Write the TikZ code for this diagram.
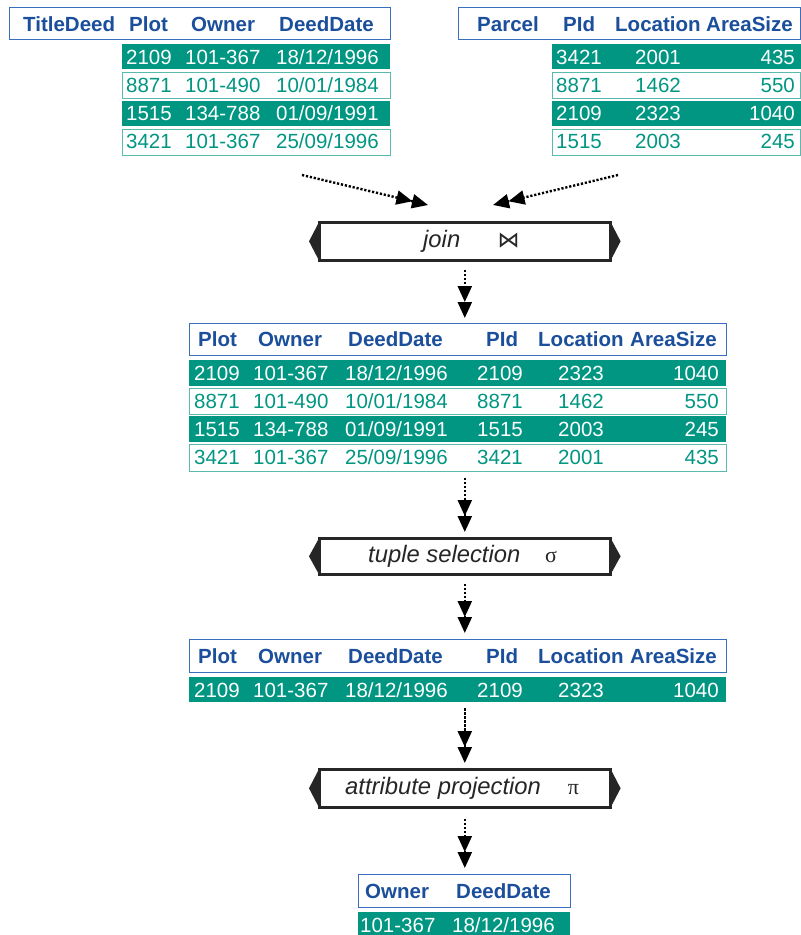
\documentclass[tikz,border=0pt]{standalone}
\usepackage{fontspec}
\setmainfont{Liberation Sans}
\newfontfamily\grkfont{Liberation Serif}
\newfontfamily\djvfont{DejaVu Sans}
\usetikzlibrary{arrows.meta,calc}
\definecolor{tealfill}{HTML}{009682}
\definecolor{tealline}{HTML}{5ABAAD}
\definecolor{hdrblue}{HTML}{1B4F9C}
\definecolor{hdrline}{HTML}{3A6EBE}
\tikzset{
  hdrbox/.style={draw=hdrline, line width=1.4pt, fill=white, anchor=north west, inner sep=0pt},
  frow/.style={fill=tealfill, anchor=north west, inner sep=0pt},
  orow/.style={draw=tealline, line width=1.2pt, fill=white, anchor=north west, inner sep=0pt},
  htxt/.style={anchor=base west, text=hdrblue, inner sep=0pt, font=\fontsize{20.5}{24}\selectfont\bfseries},
  wtxt/.style={anchor=base west, text=white, inner sep=0pt, font=\fontsize{20.5}{24}\selectfont},
  ttxt/.style={anchor=base west, text=tealfill, inner sep=0pt, font=\fontsize{20.5}{24}\selectfont},
  wtxtr/.style={wtxt, anchor=base east},
  ttxtr/.style={ttxt, anchor=base east},
  opbox/.style={draw=black!85, line width=2.6pt, fill=white, anchor=north west, inner sep=0pt, minimum width=291pt},
  otxt/.style={anchor=base west, inner sep=0pt, text=black!85, font=\fontsize{23.8}{28}\selectfont\itshape},
  osym/.style={anchor=base, inner sep=0pt, text=black!85},
  flow/.style={black, line width=2.4pt, dash pattern=on 2.2pt off 1.8pt,
    -{Triangle[length=16pt,width=14pt] Triangle[length=16pt,width=14pt]}},
}
\newcommand\optips[1]{%
  \fill[black!85] ($(#1.north west)+(0,3)$) -- ($(#1.west)+(-9,0)$) -- ($(#1.south west)+(0,-3)$) -- cycle;
  \fill[black!85] ($(#1.north east)+(0,3)$) -- ($(#1.east)+(9,0)$) -- ($(#1.south east)+(0,-3)$) -- cycle;}
\begin{document}
\begin{tikzpicture}[x=1pt,y=-1pt]
\useasboundingbox (0,0) rectangle (801,935);

% ---------- TitleDeed ----------
\node[hdrbox, minimum width=381pt, minimum height=32pt] (tdH) at (9,7) {};
\node[htxt] (tdH1) at (23,31) {TitleDeed};
\node[htxt] (tdH2) at (129,31) {Plot};
\node[htxt] (tdH3) at (191,31) {Owner};
\node[htxt] (tdH4) at (279,31) {DeedDate};
\node[frow, minimum width=268pt, minimum height=25.5pt] (tdR1) at (122,43.5) {};
\node[orow, minimum width=268pt, minimum height=26.5pt] (tdR2) at (122,71.5) {};
\node[frow, minimum width=268pt, minimum height=25.5pt] (tdR3) at (122,100.5) {};
\node[orow, minimum width=268pt, minimum height=26.5pt] (tdR4) at (122,128.5) {};
\node[wtxt] (td11) at (126,64) {2109};
\node[wtxt] (td12) at (185,64) {101-367};
\node[wtxt] (td13) at (276,64) {18/12/1996};
\node[ttxt] (td21) at (126,92) {8871};
\node[ttxt] (td22) at (185,92) {101-490};
\node[ttxt] (td23) at (276,92) {10/01/1984};
\node[wtxt] (td31) at (126,120.5) {1515};
\node[wtxt] (td32) at (185,120.5) {134-788};
\node[wtxt] (td33) at (276,120.5) {01/09/1991};
\node[ttxt] (td41) at (126,148.5) {3421};
\node[ttxt] (td42) at (185,148.5) {101-367};
\node[ttxt] (td43) at (276,148.5) {25/09/1996};

% ---------- Parcel ----------
\node[hdrbox, minimum width=342pt, minimum height=32pt] (pcH) at (458,7) {};
\node[htxt] (pcH1) at (477,31) {Parcel};
\node[htxt] (pcH2) at (563,31) {PId};
\node[htxt] (pcH3) at (615,31) {Location};
\node[htxt] (pcH4) at (706,31) {AreaSize};
\node[frow, minimum width=249pt, minimum height=25.5pt] (pcR1) at (552,43.5) {};
\node[orow, minimum width=248pt, minimum height=26.5pt] (pcR2) at (552,71.5) {};
\node[frow, minimum width=249pt, minimum height=25.5pt] (pcR3) at (552,100.5) {};
\node[orow, minimum width=248pt, minimum height=26.5pt] (pcR4) at (552,128.5) {};
\node[wtxt] (pc11) at (556,64) {3421};
\node[wtxt] (pc12) at (635,64) {2001};
\node[wtxtr] (pc13) at (795,64) {435};
\node[ttxt] (pc21) at (556,92) {8871};
\node[ttxt] (pc22) at (635,92) {1462};
\node[ttxtr] (pc23) at (795,92) {550};
\node[wtxt] (pc31) at (556,120.5) {2109};
\node[wtxt] (pc32) at (635,120.5) {2323};
\node[wtxtr] (pc33) at (795,120.5) {1040};
\node[ttxt] (pc41) at (556,148.5) {1515};
\node[ttxt] (pc42) at (635,148.5) {2003};
\node[ttxtr] (pc43) at (795,148.5) {245};

% ---------- join ----------
\node[opbox, minimum height=38pt] (join) at (318,221) {};
\optips{join}
\node[otxt] (joinT) at (423,247) {join};
\node[osym, font=\djvfont\fontsize{22}{26}\selectfont] (joinS) at (508.5,247) {⋈};

% ---------- joined table ----------
\node[hdrbox, minimum width=537pt, minimum height=31.5pt] (jtH) at (189,323) {};
\node[htxt] (jtH1) at (198,346.5) {Plot};
\node[htxt] (jtH2) at (258,346.5) {Owner};
\node[htxt] (jtH3) at (348,346.5) {DeedDate};
\node[htxt] (jtH4) at (486,346.5) {PId};
\node[htxt] (jtH5) at (538,346.5) {Location};
\node[htxt] (jtH6) at (630,346.5) {AreaSize};
\node[frow, minimum width=537pt, minimum height=26pt] (jtR1) at (189,359.5) {};
\node[orow, minimum width=537pt, minimum height=26.5pt] (jtR2) at (189,387.5) {};
\node[frow, minimum width=537pt, minimum height=26.5pt] (jtR3) at (189,415.5) {};
\node[orow, minimum width=537pt, minimum height=27pt] (jtR4) at (189,443.5) {};
\node[wtxt] (jt11) at (194,380) {2109};
\node[wtxt] (jt12) at (253,380) {101-367};
\node[wtxt] (jt13) at (345,380) {18/12/1996};
\node[wtxt] (jt14) at (477,380) {2109};
\node[wtxt] (jt15) at (558,380) {2323};
\node[wtxtr] (jt16) at (719,380) {1040};
\node[ttxt] (jt21) at (194,408.5) {8871};
\node[ttxt] (jt22) at (253,408.5) {101-490};
\node[ttxt] (jt23) at (345,408.5) {10/01/1984};
\node[ttxt] (jt24) at (477,408.5) {8871};
\node[ttxt] (jt25) at (558,408.5) {1462};
\node[ttxtr] (jt26) at (719,408.5) {550};
\node[wtxt] (jt31) at (194,436.5) {1515};
\node[wtxt] (jt32) at (253,436.5) {134-788};
\node[wtxt] (jt33) at (345,436.5) {01/09/1991};
\node[wtxt] (jt34) at (477,436.5) {1515};
\node[wtxt] (jt35) at (558,436.5) {2003};
\node[wtxtr] (jt36) at (719,436.5) {245};
\node[ttxt] (jt41) at (194,464.5) {3421};
\node[ttxt] (jt42) at (253,464.5) {101-367};
\node[ttxt] (jt43) at (345,464.5) {25/09/1996};
\node[ttxt] (jt44) at (477,464.5) {3421};
\node[ttxt] (jt45) at (558,464.5) {2001};
\node[ttxtr] (jt46) at (719,464.5) {435};

% ---------- selection ----------
\node[opbox, minimum height=36pt] (sel) at (318,537) {};
\optips{sel}
\node[otxt] (selT) at (368,562) {tuple selection};
\node[osym, font=\grkfont\fontsize{22}{26}\selectfont] (selS) at (551,562) {σ};

% ---------- selected table ----------
\node[hdrbox, minimum width=537pt, minimum height=33pt] (stH) at (189,639) {};
\node[htxt] (stH1) at (198,663) {Plot};
\node[htxt] (stH2) at (258,663) {Owner};
\node[htxt] (stH3) at (348,663) {DeedDate};
\node[htxt] (stH4) at (486,663) {PId};
\node[htxt] (stH5) at (538,663) {Location};
\node[htxt] (stH6) at (630,663) {AreaSize};
\node[frow, minimum width=537pt, minimum height=25pt] (stR1) at (189,677) {};
\node[wtxt] (st11) at (194,697) {2109};
\node[wtxt] (st12) at (253,697) {101-367};
\node[wtxt] (st13) at (345,697) {18/12/1996};
\node[wtxt] (st14) at (477,697) {2109};
\node[wtxt] (st15) at (558,697) {2323};
\node[wtxtr] (st16) at (719,697) {1040};

% ---------- projection ----------
\node[opbox, minimum height=38pt] (proj) at (318,768) {};
\optips{proj}
\node[otxt] (projT) at (345,794) {attribute projection};
\node[osym, font=\grkfont\fontsize{22}{26}\selectfont] (projS) at (573.5,794) {π};

% ---------- result ----------
\node[hdrbox, minimum width=212pt, minimum height=33pt] (rsH) at (358,874) {};
\node[htxt] (rsH1) at (365,898) {Owner};
\node[htxt] (rsH2) at (456,898) {DeedDate};
\node[frow, minimum width=212pt, minimum height=25pt] (rsR1) at (358,912) {};
\node[wtxt] (rs11) at (360,932) {101-367};
\node[wtxt] (rs12) at (452,932) {18/12/1996};

% ---------- connectors ----------
\coordinate (inL) at (302,175);
\coordinate (inLend) at (428,205);
\coordinate (inR) at (618,175);
\coordinate (inRend) at (493,205);
\draw[flow] (inL) -- (inLend);
\draw[flow] (inR) -- (inRend);
\draw[flow, shorten <=8pt, shorten >=5pt] (join.south) -- (join.south |- jtH.north);
\draw[flow, shorten <=6pt, shorten >=5pt] (jtR4.south -| sel.north) -- (sel.north);
\draw[flow, shorten <=8pt, shorten >=6pt] (sel.south) -- (sel.south |- stH.north);
\draw[flow, shorten <=6pt, shorten >=5pt] (stR1.south -| proj.north) -- (proj.north);
\draw[flow, shorten <=10pt, shorten >=6pt] (proj.south) -- (proj.south |- rsH.north);
\end{tikzpicture}
\end{document}
